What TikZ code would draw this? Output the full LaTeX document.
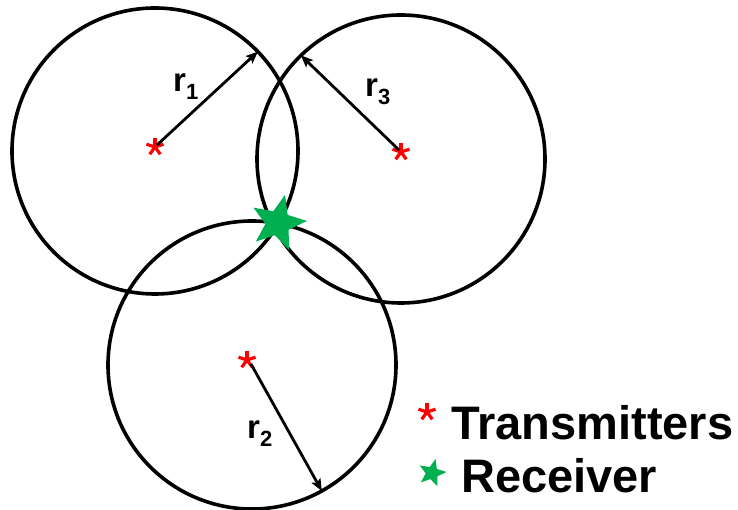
\documentclass[tikz,border=0pt]{standalone}
\usepackage{fontspec}
\setmainfont{Liberation Sans}
\usetikzlibrary{shapes.geometric,arrows.meta}
\definecolor{rxgreen}{RGB}{0,176,80}
\definecolor{txred}{RGB}{255,0,0}
\tikzset{
  ring/.style={circle,draw=black,line width=3.6pt,inner sep=0pt,outer sep=0pt},
  radiusarrow/.style={draw=black,line width=2.8pt,-{Stealth[length=12pt,width=10pt,inset=2.5pt]}},
  txmark/.pic={\foreach \a in {90,162,234,306,18}
      \draw[txred,line width=3.2pt] (0,0) -- (\a:#1);},
  rxmark/.style={star,star points=5,star point ratio=2.3,fill=rxgreen,draw=none,
      inner sep=0pt,shape border rotate=-86},
  rlabel/.style={anchor=base west,inner sep=0pt,font=\bfseries\fontsize{33pt}{33pt}\selectfont},
  legendtext/.style={anchor=base west,inner sep=0pt,font=\bfseries\fontsize{47pt}{47pt}\selectfont}
}
\newcommand{\rsub}[1]{\raisebox{-7.5pt}{\fontsize{22pt}{22pt}\selectfont #1}}
\begin{document}
\begin{tikzpicture}[x=1pt,y=1pt]
\useasboundingbox (0,0) rectangle (738,510);
% coverage circles
\node[ring,minimum size=286pt] (C1) at (155,359) {};
\node[ring,minimum size=288pt] (C3) at (401,351) {};
\node[ring,minimum size=288pt] (C2) at (252,145) {};
% transmitters
\coordinate (t1) at (155,363);
\coordinate (t3) at (401,358);
\coordinate (t2) at (247,150);
\pic at (t1) {txmark=9pt};
\pic at (t3) {txmark=9pt};
\pic at (t2) {txmark=9pt};
% arrow start points
\coordinate (s1) at (157,365);
\coordinate (s3) at (399,360);
\coordinate (s2) at (251,146);
\draw[radiusarrow] (s1) -- (C1.44.4);
\draw[radiusarrow] (s3) -- (C3.134.4);
\draw[radiusarrow] (s2) -- (C2.299);
% radius labels
\node[rlabel] (r1) at (173,418) {r\rsub{1}};
\node[rlabel] (r3) at (365,413) {r\rsub{3}};
\node[rlabel] (r2) at (247,71) {r\rsub{2}};
% receiver
\node[rxmark,minimum size=58pt] (rx) at (278,287) {};
% legend
\coordinate (lt) at (427,98);
\pic at (lt) {txmark=9pt};
\node[legendtext] (ltx) at (451,70) {Transmitters};
\node[rxmark,minimum size=29pt] (lrx) at (432,37) {};
\node[legendtext] (lrxt) at (461,17) {Receiver};
\end{tikzpicture}
\end{document}
